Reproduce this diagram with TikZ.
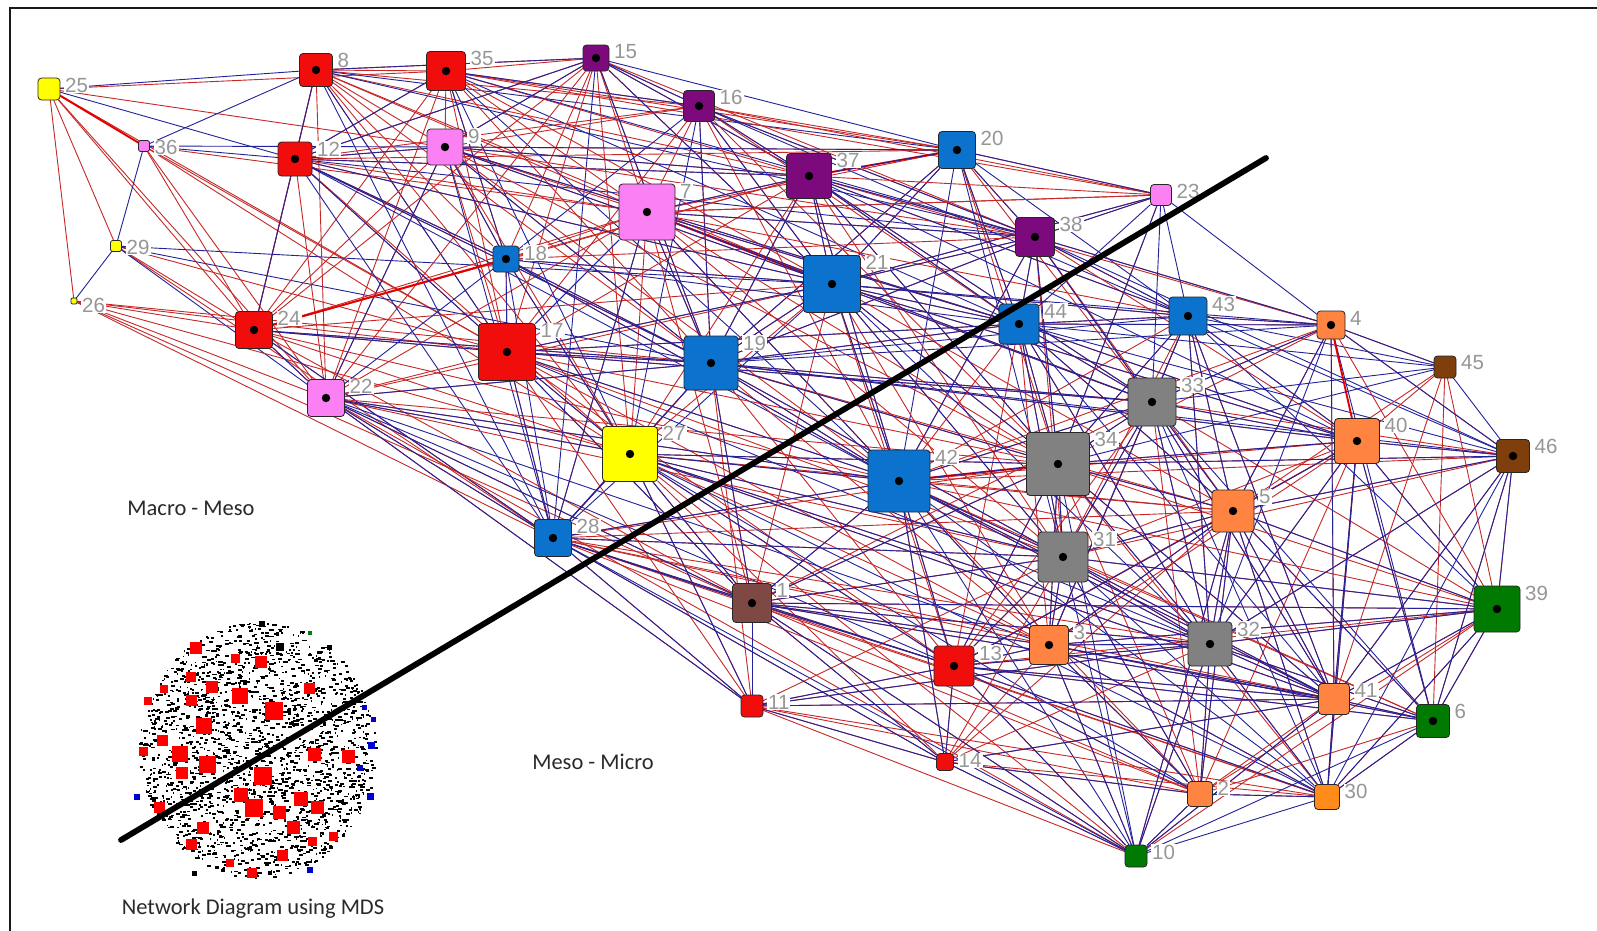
\documentclass[tikz,border=0pt]{standalone}
\usepackage{fontspec}
\setmainfont{Liberation Sans}
\newfontfamily\capfont{Carlito}
\usetikzlibrary{calc}

\pgfdeclarelayer{paper}
\pgfdeclarelayer{links}
\pgfsetlayers{paper,links,main}

\definecolor{cred}{HTML}{F20D0D}
\definecolor{cpink}{HTML}{FA80F4}
\definecolor{cpurple}{HTML}{7D0A7D}
\definecolor{cblue}{HTML}{0B72CE}
\definecolor{cyellow}{HTML}{FFFF00}
\definecolor{cgray}{HTML}{818181}
\definecolor{corange}{HTML}{FF8442}
\definecolor{corangeb}{HTML}{FF8C1A}
\definecolor{cbrown}{HTML}{7E3F0C}
\definecolor{cdusk}{HTML}{7E4845}
\definecolor{cgreen}{HTML}{007A00}
\definecolor{linkred}{HTML}{C62828}
\definecolor{linkblue}{HTML}{22229A}
\definecolor{labgray}{HTML}{969696}
\definecolor{capgray}{HTML}{2A2A2A}

\tikzset{
  box/.style={draw=black!85, line width=0.8pt, inner sep=0pt, outer sep=0pt},
  lab/.style={anchor=west, inner xsep=1pt, inner ysep=0.5pt, fill=white, text=labgray,
    font=\fontsize{20.5}{22}\selectfont},
  caption/.style={inner sep=0pt, text=capgray, font=\capfont\fontsize{22.5}{26}\selectfont},
  rl/.style={draw=linkred, line width=0.9pt},
  bl/.style={draw=linkblue, line width=0.9pt},
  rh/.style={draw=red!90!black, line width=1.9pt},
  cut/.style={draw=black, line width=5.8pt, line cap=round},
}

% an actor: id, x, y, size, fill colour, centre dot (1/0)
\newcommand\actor[6]{%
  \pgfmathsetmacro\rc{min(3.5,#4/5)}%
  \node[box, minimum size=#4pt, fill=#5, rounded corners=\rc pt] (n#1) at (#2,#3) {};
  \ifnum#6=1 \fill[black] (n#1.center) circle (4.2pt);\fi
  \node[lab] (l#1) at ($(n#1.north east)+(4,7)$) {#1};
}
% ties from one actor to a list of others
\newcommand\links[3]{\foreach \b in {#3} {\draw[#1] (n#2) -- (n\b);}}

\begin{document}
\begin{tikzpicture}[x=1pt, y=-1pt]
\useasboundingbox (0,0) rectangle (1597,930);
\begin{pgfonlayer}{paper}
  \fill[white] (0,0) rectangle (1597,930);
\end{pgfonlayer}

% frame
\draw[line width=2pt, black!90] (10,931) -- (10,8) -- (1598,8);

% actors
\actor{1}{752}{603}{39}{cdusk}{1}
\actor{2}{1200}{794}{25}{corange}{0}
\actor{3}{1049}{645}{39}{corange}{1}
\actor{4}{1331}{325}{28}{corange}{1}
\actor{5}{1233}{511}{42}{corange}{1}
\actor{6}{1433}{721}{33}{cgreen}{1}
\actor{7}{647}{212}{56}{cpink}{1}
\actor{8}{316}{70}{33}{cred}{1}
\actor{9}{445}{147}{36}{cpink}{1}
\actor{10}{1136}{856}{22}{cgreen}{0}
\actor{11}{752}{706}{22}{cred}{0}
\actor{12}{295}{159}{34}{cred}{1}
\actor{13}{954}{666}{40}{cred}{1}
\actor{14}{945}{762}{17}{cred}{0}
\actor{15}{596}{58}{26}{cpurple}{1}
\actor{16}{699}{106}{31}{cpurple}{1}
\actor{17}{507}{352}{57}{cred}{1}
\actor{18}{506}{259}{26}{cblue}{1}
\actor{19}{711}{363}{54}{cblue}{1}
\actor{20}{957}{150}{37}{cblue}{1}
\actor{21}{832}{284}{57}{cblue}{1}
\actor{22}{326}{398}{37}{cpink}{1}
\actor{23}{1161}{195}{21}{cpink}{0}
\actor{24}{254}{330}{37}{cred}{1}
\actor{25}{49}{89}{22}{cyellow}{0}
\actor{26}{74}{301}{6}{cyellow}{0}
\actor{27}{630}{454}{55}{cyellow}{1}
\actor{28}{553}{538}{37}{cblue}{1}
\actor{29}{116}{246}{11}{cyellow}{0}
\actor{30}{1327}{797}{25}{corangeb}{0}
\actor{31}{1063}{557}{50}{cgray}{1}
\actor{32}{1210}{644}{44}{cgray}{1}
\actor{33}{1152}{402}{48}{cgray}{1}
\actor{34}{1058}{464}{63}{cgray}{1}
\actor{35}{446}{71}{39}{cred}{1}
\actor{36}{144}{146}{11}{cpink}{0}
\actor{37}{809}{176}{45}{cpurple}{1}
\actor{38}{1035}{237}{39}{cpurple}{1}
\actor{39}{1497}{609}{46}{cgreen}{1}
\actor{40}{1357}{441}{45}{corange}{1}
\actor{41}{1334}{699}{31}{corange}{0}
\actor{42}{899}{481}{62}{cblue}{1}
\actor{43}{1188}{316}{38}{cblue}{1}
\actor{44}{1019}{324}{40}{cblue}{1}
\actor{45}{1445}{367}{22}{cbrown}{0}
\actor{46}{1513}{456}{33}{cbrown}{1}

% ties
\begin{pgfonlayer}{links}
\links{rl}{25}{29,26,24,22,9,17,35}
\links{bl}{25}{8,12}
\links{rh}{25}{36}
\links{rl}{36}{24,22,17,7,27}
\links{bl}{36}{29,12,9,8}
\links{rl}{29}{24,17,28}
\links{bl}{29}{26,19,22,21}
\links{rl}{26}{24,22,28,27,17,1,19}
\links{rl}{8}{35,12,24,9,7,16,37,17,18,21,15,22,27,19}
\links{bl}{8}{15,20,38,17,28,12}
\links{rl}{35}{15,16,9,12,24,7,37,20,17,18,21,22,23,19}
\links{bl}{35}{16,38,44,18,42,12,27}
\links{rl}{15}{16,9,12,7,37,18,17,19,21,24,38,22,27}
\links{bl}{15}{37,20,12,19,21,28,9}
\links{rl}{16}{37,20,7,9,12,21,38,23,17,19,42,44,34}
\links{bl}{16}{38,18,21,19,43,27}
\links{rl}{20}{23,7,38,21,9,12,34,33,44,19}
\links{bl}{20}{38,21,44,43,42,19,31}
\links{rh}{20}{37}
\links{rl}{23}{37,38,7,21,34}
\links{bl}{23}{44,43,4,33,21,34}
\links{rl}{12}{9,24,22,17,7,37,21,19,27,18}
\links{bl}{12}{18,28,42,38,37,24}
\links{rl}{9}{7,37,38,17,18,24,22,19,21,27,44,34,42}
\links{bl}{9}{20,44,22,28}
\links{rl}{24}{22,17,7,19,27,28,21,42,1,37}
\links{bl}{24}{28,19}
\links{rh}{24}{18}
\links{rl}{22}{17,27,28,7,19,42,1,21,34,31,11,10}
\links{bl}{22}{3,13,18}
\links{rl}{18}{7,17,37,21,27,19,42,38}
\links{bl}{18}{28,44}
\links{rl}{7}{37,38,17,19,27,44,42,34,33,23,31,43,28,1}
\links{bl}{7}{19,44,42,33,17,28}
\links{rh}{7}{21}
\links{rl}{37}{21,38,44,19,17,27,42,34,33,43,31,4}
\links{bl}{37}{40}
\links{rl}{38}{21,44,43,33,34,42,19,4,40,31,5}
\links{bl}{38}{46}
\links{rl}{21}{44,19,17,27,42,34,33,31,1,43,5,40,13,3}
\links{bl}{21}{4,28,32}
\links{rl}{17}{19,27,28,42,1,34,31,13,44,33,3,11}
\links{bl}{17}{32}
\links{rl}{19}{27,42,28,34,31,1,44,13,33,40,3,5,11}
\links{bl}{19}{43,4,46}
\links{rl}{44}{43,33,34,42,31,5,40,3,32,4,13}
\links{bl}{44}{46,45,41}
\links{rl}{43}{33,34,4,40,5,31,42,32,41,3}
\links{bl}{43}{46,45,39}
\links{rl}{4}{33,45,46,5,34,42,41,39}
\links{bl}{4}{32,6}
\links{rh}{4}{40}
\links{rl}{45}{40,39,6,5,41}
\links{bl}{45}{46,33,34}
\links{rl}{46}{40,39,5,33,34,41,6,32,42,31}
\links{bl}{46}{30}
\links{rl}{40}{33,34,5,42,39,41,6,31,32,3,30,13,2}
\links{rl}{33}{34,5,42,31,32,3,39,41,13,2,1}
\links{bl}{33}{6,30}
\links{rl}{34}{31,5,3,32,13,39,41,2,30,1,27,28}
\links{bl}{34}{10}
\links{rh}{34}{42}
\links{rl}{42}{27,31,5,13,3,32,1,41,14,2,39,6,28}
\links{bl}{42}{10,30}
\links{rl}{27}{28,1,31,13,3,5,32,11,14,41,10}
\links{bl}{27}{2,30}
\links{rl}{28}{1,31,13,3,5,32,11,14,41,2,30}
\links{bl}{28}{10}
\links{rl}{5}{31,32,3,13,39,41,6,2,30,10,14}
\links{rl}{31}{3,13,32,1,39,41,2,14,6,11}
\links{bl}{31}{10,30}
\links{rl}{1}{11,13,3,32,14,41,2,39,10,30}
\links{rl}{13}{3,32,14,41,2,10,30,6,39}
\links{rl}{3}{32,41,2,10,14,30,39,6}
\links{rl}{32}{41,2,10,30,39,6,14}
\links{rl}{39}{41,6,2,30,10}
\links{rl}{41}{6,30,2,10}
\links{rl}{6}{30,2}
\links{rl}{30}{2}
\links{rl}{2}{10}
\links{rl}{11}{14,10,13,41,30,2,32}
\links{rl}{14}{10,2,30,41}
% blue ties drawn over the red ones
\links{bl}{44}{43,4,33,40,34,5,31,32}
\links{bl}{43}{4,33,40,5,34,41,32}
\links{bl}{4}{46,33,45,41,5}
\links{bl}{46}{39,6,40,41,5,32,34}
\links{bl}{40}{33,5,39,41,6,32,30,34}
\links{bl}{33}{34,42,5,31,32,41,3}
\links{bl}{34}{42,31,5,32,3,13,41,27,1}
\links{bl}{42}{31,27,1,13,32,41,28,14,3}
\links{bl}{27}{28,1,13,31,32,11,41}
\links{bl}{28}{1,11,13,31,14}
\links{bl}{5}{31,32,39,41,6,30,2,10,3,13}
\links{bl}{31}{3,32,13,41,1,2,39}
\links{bl}{1}{11,13,32,39,41,3,14,10}
\links{bl}{13}{3,32,41,14,2,10,30,6}
\links{bl}{3}{32,41,10,2,30,6,39}
\links{bl}{32}{41,30,6,2,39,10}
\links{bl}{39}{6,41,30}
\links{bl}{41}{6,30,10}
\links{bl}{6}{30,10}
\links{bl}{30}{10,2}
\links{bl}{2}{10}
\links{bl}{11}{13,14,32,41}
\links{bl}{14}{10,2,41}
\links{bl}{19}{42,44,33,40,34,1,28,31}
\links{bl}{17}{19,27,28,42,1,44,21,33}
\links{bl}{21}{44,43,19,42,33,34,31,40}
\links{bl}{38}{44,43,21,33,4,19,34,42}
\links{bl}{37}{38,21,44,43,19,42,33,34}
\links{bl}{7}{37,21,38}
\links{bl}{18}{17,19,27,21,42}
\links{bl}{22}{28,27,19,1,42,11}
\links{bl}{24}{22,17}
\links{bl}{9}{37,18,19,21}
\links{bl}{12}{9,17,19,21}
\links{bl}{20}{37,23}
\links{bl}{23}{38}
\links{bl}{16}{37}
\links{bl}{15}{16}
\end{pgfonlayer}

% small overview plot in the lower left corner
\begin{scope}
  \pgfmathsetseed{4242}
  \foreach \i in {1,...,2200}{
    \pgfmathsetmacro\ang{360*rnd}
    \pgfmathsetmacro\rad{sqrt(rnd)}
    \pgfmathsetmacro\w{1+3.5*rnd}
    \fill[black] ({257+118*\rad*cos(\ang)},{750+128*\rad*sin(\ang)}) rectangle ++(\w,1.8);
  }
  \foreach \x/\y/\s in {196/648/12,235/658/9,261/662/12,191/677/10,212/687/12,240/696/16,
      164/689/8,148/701/8,191/700/11,274/711/18,309/688/11,204/726/16,162/740/11,
      143/751/9,180/754/16,207/764/17,182/773/12,314/754/13,348/756/13,263/776/18,
      241/795/14,254/808/18,279/812/13,301/799/14,317/807/13,293/827/13,203/828/12,
      333/836/9,312/841/9,191/844/11,282/855/11,230/863/8,252/873/10,159/807/11}
    \fill[red] ({\x-\s/2},{\y-\s/2}) rectangle ++(\s,\s);
  \foreach \x/\y/\s in {364/707/5,373/719/5,371/745/7,360/768/6,370/796/7,137/797/6,310/870/6}
    \fill[blue!80!black] ({\x-\s/2},{\y-\s/2}) rectangle ++(\s,\s);
  \foreach \x/\y/\s in {262/624/6,280/647/8,194/873/5,329/647/5}
    \fill[black] ({\x-\s/2},{\y-\s/2}) rectangle ++(\s,\s);
  \fill[green!50!black] (308,631) rectangle ++(4,4);
\end{scope}

% captions
\node[caption] (macro) at (191,508) {Macro - Meso};
\node[caption] (micro) at (593,762) {Meso - Micro};
\node[caption] (mds) at (253,909) {Network Diagram using MDS};

% dividing line
\coordinate (cutA) at (121,840);
\coordinate (cutB) at (1266,158);
\draw[cut] (cutA) -- (cutB);
\end{tikzpicture}
\end{document}
